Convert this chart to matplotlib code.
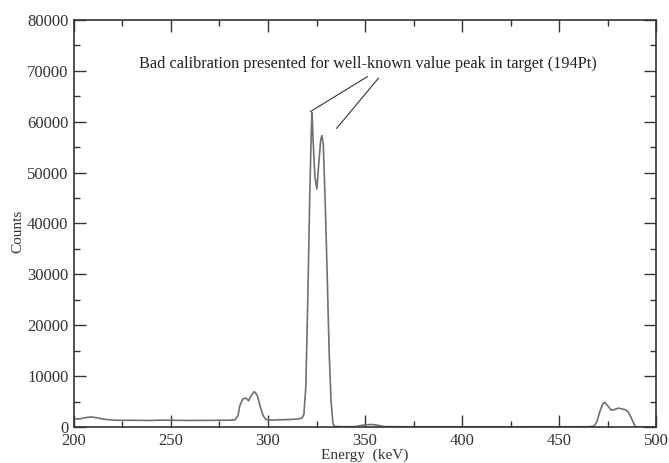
import matplotlib
matplotlib.use("Agg")
import matplotlib.pyplot as plt
from matplotlib.ticker import MultipleLocator

plt.rcParams['font.family'] = ['Liberation Serif', 'DejaVu Serif']

energy = [200, 203, 206, 209, 212, 215, 220, 225, 230, 235, 240, 245, 250, 255, 260,
          265, 270, 275, 280, 283, 284.5, 285.5, 287, 288.5, 290, 291.5, 293, 294.5,
          296, 297.5, 299, 302, 305, 310, 315, 317.5, 318.5, 319.5, 320.5, 321.5,
          322.3, 322.7, 323.3, 324.2, 325.2, 326.2, 327.2, 327.8, 328.5, 329.5, 330.5,
          331.5, 332.5, 333.5, 334.5, 340, 345, 348, 351, 354, 357, 360, 370, 400,
          430, 465, 468, 469.5, 471, 472.5, 473.5, 475, 477, 478.5, 480.5, 482, 484,
          485.5, 487, 488.5, 489.5, 495, 500]
counts = [1550, 1600, 1850, 1970, 1800, 1550, 1350, 1300, 1320, 1300, 1280, 1350, 1320,
          1300, 1280, 1300, 1300, 1320, 1330, 1400, 2200, 4200, 5500, 5700, 5150, 6300,
          6950, 6200, 4000, 2200, 1450, 1350, 1400, 1450, 1550, 1750, 2500, 8000, 25000,
          45000, 58000, 61800, 56000, 49000, 46800, 52000, 56500, 57300, 55500, 44000,
          30000, 15000, 5000, 600, 100, 50, 80, 300, 450, 480, 300, 80, 50, 40, 40, 50,
          150, 1000, 3000, 4500, 4850, 4200, 3300, 3400, 3700, 3600, 3400, 3000, 2000,
          700, 0, 0, 0]

annotation = "Bad calibration presented for well-known value peak in target (194Pt)"
annot_xy = (351.7, 71300)
pointer_starts = [(351.2, 68860), (356.9, 68550)]
pointer_ends = [(321.9, 62010), (335.4, 58710)]

fig = plt.figure(figsize=(6.69, 4.63), dpi=100)
ax = fig.add_axes([0.1106, 0.0778, 0.8700, 0.8790])

ax.plot(energy, counts, color='#707070', lw=1.2)

ax.text(annot_xy[0], annot_xy[1], annotation, ha='center', va='center',
        fontsize=11.7, color='#222222')
for (x0, y0), (x1, y1) in zip(pointer_starts, pointer_ends):
    ax.plot([x0, x1], [y0, y1], color='#333333', lw=0.8)

ax.set_xlim(200, 500)
ax.set_ylim(0, 80000)
ax.xaxis.set_major_locator(MultipleLocator(50))
ax.xaxis.set_minor_locator(MultipleLocator(25))
ax.yaxis.set_major_locator(MultipleLocator(10000))
ax.yaxis.set_minor_locator(MultipleLocator(5000))
ax.tick_params(which='both', direction='in', top=True, right=True,
               labelsize=12, colors='#333333', labelcolor='#333333', width=1.0)
ax.tick_params(which='major', length=8.5, pad=4)
ax.tick_params(which='minor', length=4.3)
for s in ax.spines.values():
    s.set_color('#333333')
    s.set_linewidth(1.2)

ax.set_xlabel('Energy  (keV)', fontsize=11, color='#333333', labelpad=0)
ax.set_ylabel('Counts', fontsize=11, color='#333333', labelpad=4)
ax.yaxis.set_label_coords(-0.085, 0.48)

fig.savefig('out.png', dpi=100)
